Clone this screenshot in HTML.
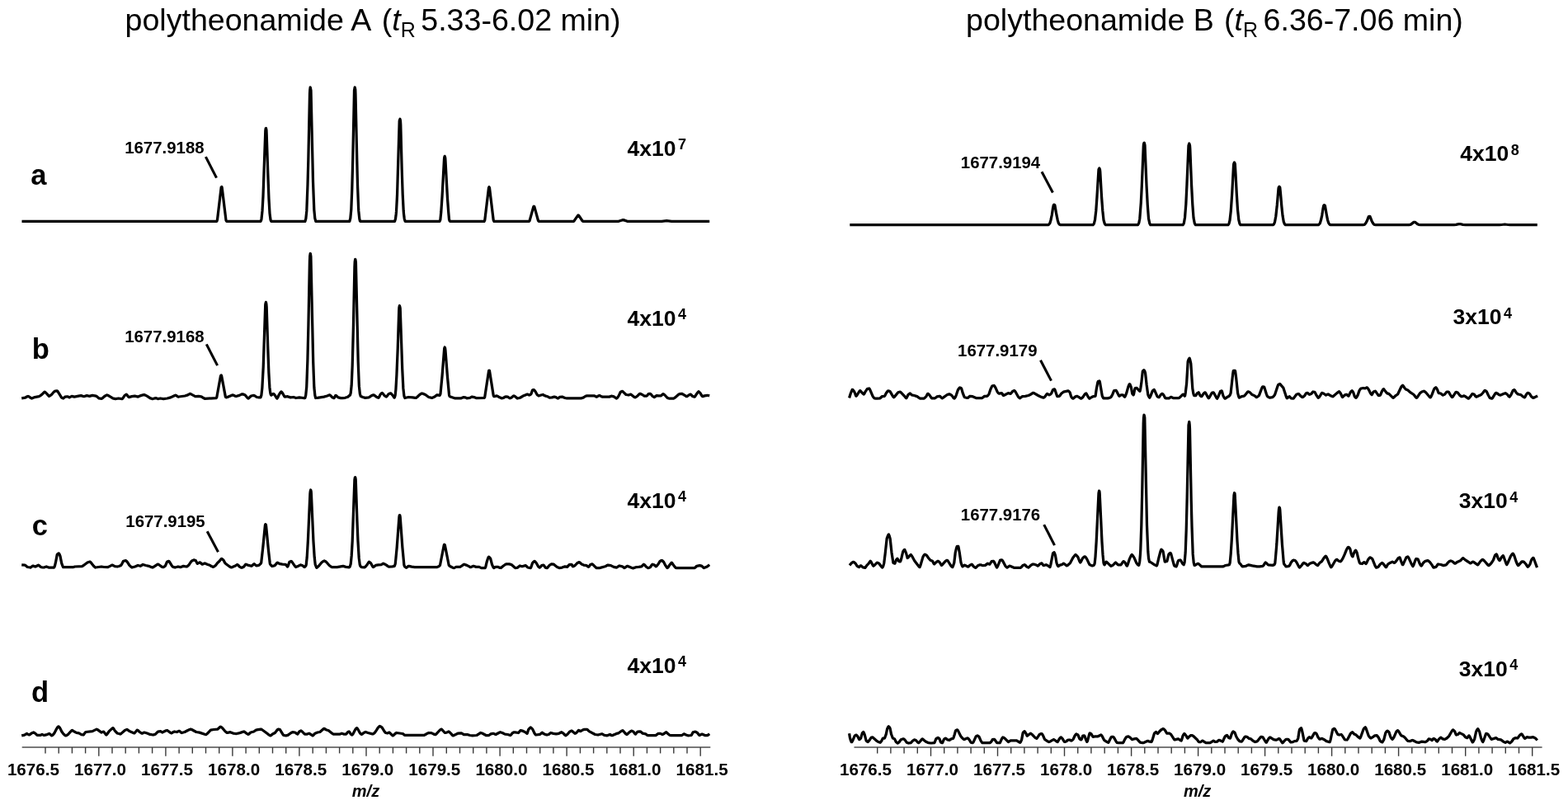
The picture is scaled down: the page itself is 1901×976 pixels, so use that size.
<!DOCTYPE html>
<html lang="en">
<head>
<meta charset="utf-8">
<title>Polytheonamide mass spectra</title>
<style>
html,body{margin:0;padding:0;background:#fff;}
body{width:1901px;height:976px;overflow:hidden;}
svg{display:block;}
text{font-family:"Liberation Sans",sans-serif;fill:#000;}
.ax{font-size:20.6px;font-weight:bold;}
.mz{font-size:20px;font-weight:bold;font-style:italic;}
.pl{font-size:20.4px;font-weight:bold;}
.sc{font-size:26.5px;font-weight:bold;}
.sup{font-size:18px;font-weight:bold;}
.lt{font-size:34.5px;font-weight:bold;}
.tt{font-size:37.6px;}
.it{font-style:italic;}
.sub{font-size:25px;}
</style>
</head>
<body>
<svg width="1901" height="976" viewBox="0 0 1901 976">
<rect x="0" y="0" width="1901" height="976" fill="#fff"/>
<!-- trace bL -->
<polyline points="26.2,482.9 30.4,482.2 33.0,480.8 34.0,480.4 35.0,480.8 37.5,482.6 38.5,483.0 42.2,481.6 47.2,480.7 48.7,479.8 51.0,478.2 53.2,475.9 54.2,475.2 55.2,475.8 57.0,477.6 59.0,480.0 59.5,480.4 59.7,480.3 60.7,479.8 62.7,478.2 65.2,475.3 66.2,474.3 67.2,474.1 69.2,473.8 69.7,474.1 70.2,474.8 74.5,481.8 75.7,482.6 76.7,483.0 79.0,481.1 81.2,480.8 82.2,480.8 83.7,481.7 84.2,481.9 87.0,480.4 90.2,481.1 96.5,479.8 98.2,479.6 101.7,480.7 105.2,479.6 106.0,479.7 108.5,480.4 112.0,479.4 116.5,480.1 117.2,480.6 120.0,482.9 123.0,483.3 123.5,483.2 124.2,482.7 126.7,480.5 128.7,479.3 129.7,478.9 131.4,479.6 136.4,482.7 137.7,483.2 139.9,483.6 143.7,483.0 147.9,483.6 148.4,483.3 148.9,482.8 150.9,479.8 152.2,478.8 153.2,478.2 153.9,478.8 155.4,480.9 156.2,481.6 159.9,480.7 163.4,480.1 167.4,481.1 170.9,479.6 173.4,478.8 174.7,478.6 175.9,479.0 178.2,480.1 181.9,482.6 184.4,483.5 185.4,483.5 188.7,482.6 191.4,483.6 194.4,483.0 198.2,483.6 202.7,483.0 206.9,481.9 211.4,479.7 212.7,479.2 213.4,479.4 215.7,481.0 216.9,481.0 224.2,480.0 227.7,478.9 229.9,477.6 230.7,477.4 236.7,480.6 237.2,480.7 240.9,480.4 243.7,480.9 244.9,481.3 247.2,482.8 248.2,483.3 261.9,482.7 262.7,482.0 262.9,481.0 267.4,456.4 267.7,455.3 268.2,455.0 268.4,455.2 268.7,456.1 273.2,480.1 273.4,481.2 274.2,481.9 275.7,481.5 281.7,478.9 282.7,479.0 285.2,480.2 286.2,480.5 290.2,479.4 292.7,478.1 293.7,477.8 295.4,478.2 297.2,479.0 299.9,482.2 300.9,483.0 301.2,483.1 301.7,482.7 304.4,480.0 307.9,479.4 308.7,479.7 311.2,481.5 313.9,481.8 315.9,481.9 316.9,479.1 317.9,470.1 319.2,445.4 321.7,369.7 321.9,368.1 322.4,366.4 322.9,368.6 323.2,372.2 324.7,419.9 325.9,452.1 326.9,469.7 327.7,476.0 328.2,478.0 328.7,479.1 328.9,479.1 330.9,477.7 331.7,477.5 332.9,478.7 333.9,480.1 335.4,482.6 335.9,483.1 336.7,482.0 338.4,478.3 339.9,476.0 340.9,474.9 341.7,475.5 342.9,477.2 344.7,480.6 345.2,481.1 348.7,480.7 352.2,481.9 355.9,481.5 358.9,482.5 362.9,481.9 367.9,482.5 369.7,482.5 369.9,482.3 370.7,479.4 370.9,477.4 371.7,469.5 371.9,464.4 372.9,436.5 373.9,394.7 375.4,317.8 375.7,310.6 376.2,307.4 376.4,307.7 376.9,310.9 379.7,438.6 380.7,465.7 380.9,470.0 381.7,477.9 381.9,479.6 382.7,482.5 384.7,482.4 392.7,481.1 396.7,480.0 399.7,478.8 400.7,479.5 402.7,481.7 404.7,482.6 404.9,482.7 405.2,482.5 406.9,479.4 407.7,479.8 409.4,481.4 410.2,481.9 413.2,482.6 415.2,482.6 418.4,482.3 420.9,481.5 422.2,480.9 423.4,479.5 424.2,479.4 424.4,479.2 425.2,476.5 426.2,467.2 427.2,443.2 428.4,396.6 429.9,324.1 430.2,317.3 430.7,314.4 430.9,314.7 431.4,317.7 434.2,438.6 435.2,464.4 435.4,468.4 436.2,476.0 436.4,477.6 437.2,480.4 437.9,480.6 439.7,481.5 442.9,482.3 446.9,481.9 447.7,481.6 449.9,480.0 451.9,479.1 453.2,478.8 453.9,479.3 456.2,481.1 457.9,482.0 458.9,482.3 459.7,481.2 461.2,478.1 462.4,477.0 463.4,476.4 464.2,477.1 465.9,479.4 467.4,480.6 468.4,481.1 469.2,480.4 470.9,477.9 472.4,477.1 473.7,476.8 474.7,477.7 476.2,479.5 477.9,482.2 478.2,482.1 478.4,481.6 478.9,480.2 479.2,478.8 479.9,472.1 480.9,454.6 482.2,422.9 483.7,376.6 483.9,372.9 484.4,370.6 484.9,372.2 485.2,373.9 487.7,446.8 488.9,470.9 489.9,479.9 490.4,481.5 490.9,482.5 495.2,481.5 500.2,481.9 503.4,482.4 504.4,482.4 505.7,481.5 508.4,478.8 510.4,477.4 511.4,477.0 513.2,477.4 515.7,478.5 519.7,481.5 523.5,482.3 524.7,482.1 527.0,481.1 529.2,479.2 530.0,478.8 532.7,479.3 533.2,479.3 533.7,478.3 534.0,477.3 534.7,470.2 536.0,456.5 538.5,424.7 538.7,422.3 539.2,421.0 539.7,422.4 540.0,424.9 542.5,457.2 544.5,478.5 544.7,479.6 545.2,480.7 551.2,482.8 559.2,482.8 561.7,481.6 564.2,481.9 566.0,482.8 567.5,482.7 569.7,482.4 571.5,481.4 572.2,481.1 574.7,481.6 577.2,482.6 587.0,482.5 587.7,481.5 592.5,450.2 592.7,449.4 593.0,449.1 593.5,449.4 598.2,479.3 598.5,480.1 599.0,480.7 599.2,480.7 602.2,479.9 603.0,480.2 605.2,481.6 608.0,482.8 610.5,482.4 612.2,481.2 613.0,480.9 615.5,481.2 617.5,482.5 618.2,482.8 620.2,481.9 622.2,480.3 623.0,479.9 624.2,480.5 627.2,483.0 629.7,482.5 631.0,482.0 633.7,480.3 638.7,478.2 639.5,478.1 641.5,479.0 642.7,478.6 643.7,477.9 644.0,477.5 645.5,473.1 645.7,472.9 647.2,472.6 648.0,473.2 649.0,474.6 651.0,478.3 652.0,479.2 653.0,479.8 653.7,479.8 656.0,479.0 658.2,478.5 660.7,479.9 663.7,480.7 666.2,482.1 669.2,481.9 672.0,481.1 674.0,481.6 676.2,483.0 677.0,482.7 678.7,481.3 681.5,481.1 682.5,481.4 685.0,482.5 687.2,482.8 705.0,482.8 706.2,482.4 708.2,481.5 710.2,480.2 711.0,479.9 720.7,479.9 723.2,481.2 724.0,480.9 726.0,479.7 726.7,479.5 729.5,480.9 730.2,481.1 738.7,481.1 741.2,480.2 742.2,480.3 744.2,480.8 746.5,482.5 747.5,483.0 748.5,482.2 750.0,480.1 752.2,475.5 753.5,474.7 754.5,474.3 755.2,474.8 759.0,478.5 762.0,479.0 764.2,478.2 765.0,478.2 768.7,481.2 770.0,481.9 771.5,481.1 773.0,479.9 775.0,477.8 775.7,477.3 776.0,477.3 778.7,478.5 781.2,480.2 783.7,480.2 784.0,480.2 784.5,479.7 786.2,477.6 788.2,477.3 789.0,477.8 791.0,480.2 792.5,481.3 793.2,481.6 796.0,479.6 798.7,479.9 801.5,479.8 803.5,477.9 804.0,477.6 804.7,478.0 806.0,479.0 808.7,482.0 810.0,482.7 811.0,483.0 817.0,483.0 818.2,482.2 823.0,478.0 824.2,477.6 826.5,477.3 827.7,477.8 831.5,480.2 832.5,480.7 833.2,480.4 835.2,479.0 837.2,478.1 837.7,478.4 839.5,480.4 842.0,481.2 842.2,481.1 842.7,480.6 844.5,477.7 846.0,475.6 847.0,474.7 847.7,475.3 849.0,476.6 850.7,479.6 851.5,480.6 852.0,480.6 854.2,479.9 857.5,479.3 858.7,479.5 860.2,479.9" fill="none" stroke="#000" stroke-width="3.25" stroke-linejoin="round" stroke-linecap="butt" />
<!-- trace cL -->
<polyline points="26.2,684.8 30.2,685.2 30.9,685.6 33.2,687.5 36.5,688.0 37.0,688.0 37.5,687.7 39.7,686.1 40.2,686.1 42.2,686.9 43.0,687.0 46.5,685.2 47.2,685.6 49.5,687.5 51.2,687.8 53.2,688.0 56.2,687.0 59.0,688.0 65.7,688.0 66.5,685.9 67.5,681.7 69.2,672.6 70.0,671.6 71.2,670.8 71.5,671.0 72.0,671.8 73.0,674.4 74.7,682.9 76.0,686.4 76.7,687.7 88.5,687.7 90.7,687.0 99.5,686.6 101.0,685.8 106.0,682.0 107.5,681.5 109.0,681.1 109.5,681.3 110.2,682.0 113.5,686.2 115.0,687.6 115.7,688.0 123.0,687.0 126.0,687.5 130.4,687.7 131.4,687.4 134.9,685.6 136.2,685.1 136.9,685.3 139.2,686.6 142.2,687.0 144.2,686.5 146.7,685.5 147.4,684.4 149.4,680.6 150.7,680.0 152.4,679.6 153.2,680.1 154.7,681.8 156.9,685.4 158.7,687.2 159.9,688.0 163.7,687.0 167.2,685.5 170.2,686.3 173.2,684.5 176.7,685.5 180.4,686.3 183.7,687.7 184.9,688.0 186.2,687.4 190.4,684.6 191.7,684.1 192.4,684.5 196.4,687.3 197.2,687.6 197.7,687.7 198.9,687.2 200.4,686.2 202.2,681.8 202.7,681.1 204.7,680.4 204.9,680.5 205.4,681.1 208.2,685.7 209.2,687.0 210.9,687.7 212.2,688.0 215.9,687.0 218.7,687.7 219.4,687.5 222.4,686.3 225.9,687.0 226.7,686.8 227.7,686.1 229.2,684.7 231.9,680.6 233.7,679.4 234.9,678.9 237.2,679.6 238.9,682.8 239.4,683.3 241.7,682.1 242.4,681.9 245.2,684.1 245.9,683.9 247.9,683.1 248.4,683.0 251.9,684.5 254.4,685.3 256.4,686.6 258.4,687.4 259.7,686.8 261.4,685.4 263.7,682.5 265.9,680.5 267.9,678.0 268.7,677.5 269.9,678.2 271.2,679.4 272.7,682.4 273.7,683.5 278.4,687.0 279.4,687.5 280.4,687.9 281.7,687.6 284.2,686.6 286.7,685.1 287.9,684.6 288.7,685.1 290.4,687.1 291.9,687.9 292.9,688.3 294.2,687.9 295.7,687.0 297.4,684.7 298.2,684.2 301.4,685.4 304.7,686.3 305.4,686.0 307.4,684.1 308.2,683.7 310.7,685.9 312.7,685.7 314.2,685.3 315.4,683.9 315.9,683.6 316.7,682.3 318.7,664.4 321.4,637.0 321.7,636.0 321.9,635.6 322.4,636.3 322.7,638.4 325.4,666.5 327.2,682.5 327.4,683.7 328.2,685.0 329.9,686.5 331.4,686.2 333.4,685.4 335.7,682.6 336.2,682.2 336.4,682.1 339.4,683.7 342.4,684.2 346.2,684.3 348.2,686.8 348.4,687.0 348.7,687.0 349.2,686.1 350.9,681.4 351.7,680.9 352.9,680.4 353.4,680.6 353.9,681.1 357.7,686.6 358.7,687.6 361.2,686.6 363.7,685.2 364.7,684.9 366.9,685.8 368.9,687.4 369.4,687.5 370.7,686.1 371.2,684.7 372.2,675.5 373.4,655.1 375.9,598.7 376.2,595.9 376.7,594.0 377.2,595.9 377.4,598.7 379.9,655.0 381.2,675.3 382.2,684.4 383.7,688.0 383.9,688.3 384.4,688.0 386.4,686.3 389.9,682.0 391.9,680.5 393.2,680.0 394.2,680.4 395.7,681.5 399.2,685.5 401.2,687.0 402.4,687.6 408.7,687.6 415.9,686.3 419.2,687.4 423.4,687.9 424.2,687.1 425.2,683.8 426.2,673.9 427.2,656.3 429.9,581.5 430.4,578.9 430.7,578.7 431.2,581.1 431.4,585.7 432.9,630.1 433.9,654.9 435.2,676.4 436.2,684.4 436.9,686.4 437.9,687.4 438.4,687.6 441.9,687.9 442.4,687.6 443.4,686.7 445.2,684.5 446.7,682.0 447.4,681.2 448.4,681.8 449.7,683.0 451.7,686.7 452.4,687.6 453.2,687.2 455.4,685.4 458.7,684.9 462.2,684.6 464.7,683.2 466.4,683.9 468.4,685.1 470.4,686.6 471.4,687.1 475.4,687.0 478.2,686.3 478.4,686.0 479.2,683.8 479.9,677.3 481.2,663.5 483.9,627.1 484.2,625.2 484.4,624.7 484.7,624.7 484.9,625.2 485.2,626.9 487.9,663.8 489.9,685.2 490.7,687.0 492.4,688.3 493.2,688.0 494.9,686.6 495.7,686.3 499.2,687.1 502.7,687.6 529.5,687.6 530.5,687.4 532.2,686.5 532.7,686.2 533.5,685.2 538.2,661.2 538.5,660.4 538.7,660.2 539.2,660.4 539.5,661.5 544.2,685.2 545.0,686.1 546.5,687.1 549.0,688.2 550.5,688.6 553.0,687.4 557.7,687.3 560.2,685.9 562.0,684.5 562.7,684.2 566.0,685.4 568.0,686.4 569.7,687.4 570.5,687.7 574.0,686.3 577.2,687.4 581.0,687.4 583.5,688.6 588.2,688.6 588.7,687.6 590.2,681.2 591.2,678.0 592.0,675.9 592.5,675.2 593.5,675.9 594.7,677.3 596.5,684.3 597.7,687.2 598.7,688.6 600.5,687.5 601.0,687.4 604.0,687.4 606.2,688.4 607.0,688.5 608.0,688.0 610.0,686.3 612.2,684.7 613.2,684.1 614.0,683.9 617.5,683.9 620.0,684.6 623.7,687.8 625.0,688.6 626.0,688.5 627.7,688.1 630.2,686.0 633.0,686.8 637.2,685.6 638.0,686.2 639.7,688.0 643.2,688.6 643.5,688.4 644.0,687.3 645.5,682.8 646.7,681.3 648.0,680.4 648.7,680.9 650.2,682.5 652.5,686.7 654.0,688.0 654.2,688.1 654.7,687.8 656.7,685.6 659.0,685.1 659.5,685.6 661.2,688.1 663.2,688.6 664.0,688.1 666.0,685.6 667.5,684.4 668.5,683.9 671.2,684.2 672.2,684.9 674.5,686.8 676.7,688.1 678.0,688.6 681.5,688.1 685.0,686.8 687.7,687.4 690.2,684.6 692.2,684.3 693.0,684.3 694.2,686.5 694.5,686.8 694.7,686.8 695.7,686.4 697.2,685.5 699.7,682.8 701.2,682.0 702.2,681.6 703.0,682.0 704.7,683.7 705.7,684.3 707.5,685.1 711.0,685.6 713.5,687.3 714.0,687.1 715.7,684.6 718.0,683.9 718.7,684.3 722.2,687.9 723.2,688.6 726.7,688.6 727.7,688.4 733.7,686.8 736.0,685.5 737.0,685.1 740.5,685.6 744.0,687.4 747.5,688.1 748.2,687.8 750.2,686.3 751.0,686.0 754.5,686.8 757.0,688.6 757.7,688.3 760.0,686.5 760.7,686.3 766.0,688.5 767.5,688.9 771.0,687.7 774.5,687.4 777.7,686.8 778.2,686.5 779.7,684.8 780.5,684.2 781.2,684.7 783.2,686.9 784.7,688.1 785.7,688.6 787.2,688.2 788.5,687.6 790.2,684.9 791.0,684.2 793.5,685.1 795.0,686.7 795.2,686.8 795.5,686.7 796.5,685.8 798.0,684.0 800.0,680.6 801.2,679.8 802.2,679.4 803.2,680.0 804.7,681.5 807.0,685.9 808.5,688.0 809.0,688.5 809.2,688.5 810.0,687.8 811.5,685.4 813.0,683.5 814.2,682.2 814.5,682.3 815.0,682.9 816.2,684.8 818.5,687.7 819.2,688.4 819.7,688.6 842.0,688.6 842.7,688.2 844.7,686.3 848.2,685.6 849.5,685.9 851.0,686.4 852.7,688.1 853.5,688.6 856.2,687.6 858.2,686.3 860.2,684.7" fill="none" stroke="#000" stroke-width="3.25" stroke-linejoin="round" stroke-linecap="butt" />
<!-- trace dL -->
<polyline points="26.2,891.9 29.7,891.1 32.5,889.5 33.2,889.8 35.0,890.8 35.7,890.9 38.5,888.9 40.0,888.2 40.7,888.0 42.7,889.1 45.0,891.4 48.7,891.4 51.0,890.4 53.0,891.4 53.7,891.3 57.0,890.6 59.7,889.5 60.5,889.9 62.0,891.4 62.7,891.9 64.0,891.1 65.7,889.2 68.0,884.7 69.7,881.9 70.7,880.8 71.0,880.8 71.5,881.2 72.7,882.6 74.7,886.8 76.7,889.6 78.5,891.3 79.2,891.7 79.7,891.9 81.0,891.4 82.7,890.3 85.5,887.1 86.7,886.0 87.5,885.5 88.2,885.8 90.0,887.0 92.7,888.4 95.7,888.9 98.7,890.7 101.0,891.0 101.7,890.4 103.2,888.2 104.0,887.5 112.0,886.6 117.2,884.1 118.2,884.6 122.0,887.4 123.0,888.0 123.5,887.9 125.0,887.1 125.5,887.1 126.2,887.7 128.2,890.4 128.9,891.0 129.7,890.3 132.2,886.7 134.7,884.3 136.9,882.6 137.2,882.7 137.7,883.3 139.4,886.2 141.7,888.5 142.2,888.9 143.2,889.3 145.7,890.0 146.2,889.9 146.9,889.4 151.7,885.2 153.9,884.5 154.9,885.0 156.9,886.6 162.7,888.9 162.9,888.9 163.4,888.5 165.7,885.7 166.4,885.1 167.4,885.7 169.4,887.7 171.2,888.7 172.2,889.2 172.7,889.1 174.4,888.0 174.9,888.0 178.4,889.0 181.9,890.4 185.7,891.0 186.9,890.7 188.7,889.9 191.4,887.1 192.9,886.8 194.7,886.7 196.7,888.0 201.4,885.8 202.7,885.5 206.7,888.4 207.7,888.9 208.4,888.7 210.4,887.4 211.4,887.0 214.4,887.5 217.2,886.3 217.9,886.6 219.7,888.2 220.4,888.5 223.9,887.5 227.7,885.5 229.9,884.5 231.2,884.1 232.4,884.5 237.9,887.5 241.9,888.1 248.2,890.3 249.7,890.7 250.9,889.8 255.4,885.2 259.2,884.5 263.7,884.1 264.4,883.6 266.7,881.5 267.4,881.1 268.2,881.5 269.7,882.7 272.4,886.1 274.2,887.7 275.2,888.4 275.9,888.4 279.2,887.7 282.7,889.1 285.7,889.5 286.7,889.5 288.4,889.2 291.4,888.4 294.7,887.2 295.9,887.0 296.7,887.4 298.7,889.1 300.9,890.4 301.7,890.0 303.9,888.0 307.7,887.0 310.4,885.2 312.7,884.7 316.4,884.1 317.7,884.7 321.9,887.7 325.2,890.3 326.9,891.5 327.9,891.9 328.7,891.5 330.4,890.0 333.4,888.5 335.7,885.5 336.7,884.5 337.4,884.1 338.9,884.4 339.4,884.6 343.4,891.1 343.9,891.4 345.2,891.7 346.7,891.9 348.9,891.4 351.9,889.2 353.7,888.1 354.7,887.7 357.7,888.0 359.9,889.6 360.7,890.0 361.2,889.5 362.9,887.0 364.9,886.0 365.7,886.4 368.7,889.4 369.4,890.0 372.4,890.0 374.7,889.2 375.9,889.8 378.7,891.7 379.2,891.9 379.9,891.3 381.9,889.2 384.9,888.0 387.9,887.5 391.9,884.0 392.7,883.5 393.2,883.3 395.2,884.7 398.4,885.7 402.7,889.2 403.9,890.0 412.2,890.0 414.4,889.2 416.7,890.0 419.4,890.0 420.2,889.5 421.7,887.6 423.2,887.0 423.7,887.4 425.2,890.0 426.9,891.0 427.4,890.6 427.9,889.9 430.9,884.3 431.9,883.1 432.4,882.7 432.7,882.7 433.2,883.2 434.4,885.1 436.4,888.8 437.7,890.0 438.4,890.4 439.2,890.0 440.9,888.5 443.2,887.5 446.2,888.5 451.4,889.9 452.2,889.9 453.2,889.3 454.4,888.2 456.4,885.4 458.4,882.1 459.7,880.9 460.4,880.4 461.7,881.0 463.2,882.1 466.4,887.3 467.4,888.5 469.7,888.9 471.9,888.0 472.7,888.6 475.4,891.3 476.2,891.9 476.7,891.7 479.4,889.2 480.7,888.5 487.9,889.5 488.7,889.8 490.4,891.2 491.2,891.4 514.0,891.4 515.0,891.0 518.7,888.9 519.7,888.5 523.0,888.6 525.5,889.9 527.7,890.7 528.5,890.3 529.2,889.7 533.0,885.5 534.5,884.4 535.2,884.1 536.0,884.7 538.7,887.8 539.5,888.4 540.2,888.4 541.7,888.0 544.0,887.0 544.5,887.2 546.5,889.1 548.5,891.4 549.2,891.9 550.7,891.4 555.0,889.2 559.5,888.9 560.2,889.2 561.7,890.3 562.5,890.7 566.5,890.5 569.7,891.5 572.7,891.8 577.7,891.5 578.5,891.2 580.5,889.8 582.7,888.5 584.5,889.0 589.2,891.5 592.5,891.5 593.2,891.2 595.0,889.9 597.5,889.4 598.5,889.3 600.5,890.4 601.0,890.5 605.2,888.2 606.5,887.7 609.0,888.5 612.2,890.1 615.5,890.5 618.7,891.5 619.5,890.9 621.2,888.8 623.2,887.8 624.5,887.8 628.5,888.5 629.0,888.1 630.5,886.1 631.0,885.6 632.5,885.9 634.2,886.4 636.0,887.2 638.5,889.0 639.0,889.3 639.2,889.2 640.7,884.6 642.0,883.0 643.2,882.0 644.2,882.6 645.7,884.1 648.0,889.0 649.0,890.4 649.7,891.0 654.7,890.4 656.5,888.7 657.2,888.2 659.5,889.8 661.7,890.7 663.0,891.0 665.2,890.5 667.0,889.0 667.7,888.5 671.0,889.3 674.2,889.8 677.5,889.3 680.7,887.7 681.7,888.2 683.2,889.3 685.0,891.3 685.7,891.8 686.7,891.2 688.2,890.0 690.5,887.2 692.5,886.2 693.0,886.1 693.5,886.3 697.0,889.3 698.0,888.9 699.5,887.7 701.5,885.4 702.0,885.5 703.2,886.4 703.7,886.6 706.0,885.3 707.7,884.6 708.7,884.4 711.7,884.4 712.0,884.5 714.2,886.6 721.5,890.5 725.0,891.0 729.7,889.8 730.5,890.1 732.7,891.4 736.2,891.8 739.5,890.5 741.7,891.7 742.7,891.6 747.5,889.4 750.0,888.8 753.5,886.3 755.0,885.6 755.7,886.3 757.5,888.5 759.0,890.0 759.7,890.5 760.7,890.0 763.2,887.6 765.0,886.5 766.0,886.1 768.0,887.2 769.7,889.5 770.5,890.1 771.0,889.6 772.5,887.6 773.0,887.2 776.2,886.9 777.0,887.3 779.2,889.2 782.7,889.8 784.5,891.2 785.2,891.5 795.0,891.5 795.7,891.1 797.5,889.7 798.2,889.3 800.7,889.3 802.7,890.4 803.2,890.5 805.5,889.3 807.0,888.1 807.7,887.7 808.5,888.3 809.7,889.6 811.2,890.8 812.2,891.4 812.7,891.5 826.7,891.5 829.2,889.8 831.7,891.0 834.0,891.8 838.0,891.5 838.5,891.1 840.2,887.8 841.2,887.5 843.0,887.2 844.0,887.6 845.5,888.5 847.2,890.8 848.0,891.5 851.2,890.1 854.5,891.5 857.7,891.5 858.7,891.0 860.2,889.8" fill="none" stroke="#000" stroke-width="3.25" stroke-linejoin="round" stroke-linecap="butt" />
<!-- trace bR -->
<polyline points="1029.6,482.5 1031.3,477.0 1032.6,473.8 1033.3,472.4 1033.6,472.3 1034.1,472.7 1035.8,475.0 1037.6,479.7 1037.8,480.1 1038.1,480.2 1038.8,479.4 1041.8,474.6 1042.6,473.7 1042.8,473.6 1043.3,474.0 1046.3,477.4 1047.1,478.1 1047.3,478.0 1047.8,477.4 1049.3,474.6 1051.3,471.7 1051.8,471.4 1053.8,471.0 1054.6,472.1 1058.1,480.4 1059.3,482.1 1060.1,482.8 1061.8,483.1 1063.6,483.2 1067.1,482.8 1069.3,480.7 1072.3,480.3 1073.1,479.2 1074.3,476.8 1075.6,475.0 1076.3,474.1 1076.8,473.9 1078.6,474.3 1079.1,474.6 1082.6,480.6 1083.6,481.7 1084.6,480.9 1088.6,476.0 1089.6,475.5 1091.3,475.1 1092.1,475.6 1096.6,480.3 1098.1,482.2 1098.8,482.8 1099.3,482.1 1100.8,479.0 1102.1,477.7 1103.1,476.9 1103.6,477.1 1105.3,478.8 1108.3,479.5 1111.8,480.6 1114.8,482.8 1115.8,483.2 1120.1,483.2 1120.6,482.9 1121.6,482.0 1123.1,480.3 1124.3,478.0 1124.8,477.3 1125.6,477.7 1126.8,478.9 1128.8,481.9 1129.3,482.5 1129.8,482.8 1133.3,482.8 1134.1,482.4 1136.1,480.8 1139.1,480.3 1139.8,480.6 1141.6,482.4 1142.1,482.8 1142.3,482.8 1143.8,481.9 1148.1,478.8 1149.8,478.1 1151.1,477.8 1152.3,478.4 1154.1,479.6 1156.3,482.7 1156.8,483.1 1157.1,483.1 1158.1,481.7 1159.3,479.1 1161.3,473.0 1162.6,471.0 1163.6,470.0 1164.8,470.4 1165.6,470.9 1167.3,476.7 1168.8,480.6 1169.6,481.7 1171.8,482.3 1173.3,482.4 1175.3,480.7 1176.1,480.3 1179.1,480.7 1183.3,482.5 1190.8,482.5 1193.6,480.4 1196.6,480.3 1197.1,480.1 1197.8,479.4 1199.1,477.6 1200.8,472.3 1202.6,468.4 1203.1,467.9 1205.1,467.5 1205.6,467.8 1206.3,468.9 1207.3,470.8 1209.1,474.9 1210.3,476.4 1211.3,477.2 1211.8,477.2 1214.3,476.6 1214.8,477.0 1216.1,479.0 1216.6,479.5 1217.8,479.0 1222.3,476.6 1225.3,477.3 1225.8,476.9 1227.6,474.5 1228.8,473.9 1229.8,473.6 1230.3,474.0 1231.1,475.0 1234.3,480.8 1235.8,482.4 1236.6,482.8 1239.3,480.7 1243.1,480.3 1246.8,479.5 1249.6,478.2 1251.6,476.8 1252.6,476.3 1253.6,476.6 1258.6,479.5 1261.6,481.0 1264.1,481.9 1265.3,482.1 1266.1,481.6 1267.3,480.3 1268.8,478.1 1269.6,477.3 1272.1,478.8 1272.8,478.5 1273.8,477.8 1274.6,477.1 1276.6,472.5 1278.3,471.9 1278.6,472.0 1279.1,473.0 1281.3,479.6 1281.8,480.6 1284.3,480.3 1285.1,479.5 1286.6,477.3 1289.3,475.2 1295.1,473.9 1295.8,474.3 1297.1,475.8 1298.6,480.8 1299.8,482.4 1300.8,483.1 1301.1,483.2 1301.6,482.9 1303.3,481.3 1304.8,480.5 1305.6,480.3 1307.8,481.4 1310.1,483.0 1310.6,483.2 1310.8,483.1 1312.8,481.6 1315.1,478.0 1316.1,477.2 1316.8,476.9 1319.6,481.7 1320.8,483.2 1321.6,482.8 1323.1,481.7 1324.6,481.0 1325.3,480.7 1327.8,480.3 1328.1,480.0 1329.3,471.6 1330.8,463.7 1331.3,462.5 1332.8,461.9 1333.1,462.1 1333.6,464.2 1336.3,480.1 1337.1,481.7 1337.8,482.8 1343.1,482.8 1344.8,482.4 1346.6,481.7 1347.3,480.9 1348.8,478.2 1350.6,473.7 1351.1,473.5 1352.8,473.3 1353.1,473.4 1353.6,474.1 1356.1,479.1 1356.8,480.2 1357.1,480.3 1357.3,480.1 1359.1,478.8 1361.3,478.8 1361.8,479.2 1363.1,480.9 1363.6,481.3 1364.3,480.2 1365.8,476.4 1367.8,469.1 1368.8,466.5 1369.3,465.7 1369.6,465.6 1370.1,466.3 1371.3,469.4 1372.8,477.4 1374.1,478.8 1374.3,478.5 1374.6,477.7 1375.8,471.7 1376.1,470.9 1376.3,470.7 1378.1,470.4 1378.3,470.5 1381.3,473.9 1381.8,474.3 1382.1,474.1 1382.8,470.8 1383.8,464.3 1385.3,450.4 1385.8,449.5 1386.8,448.6 1387.3,449.1 1387.8,450.1 1388.3,451.4 1388.6,452.7 1390.1,466.3 1391.8,478.6 1392.8,480.9 1393.6,482.0 1393.8,482.2 1394.6,480.8 1397.3,473.9 1398.3,473.0 1399.3,472.5 1399.8,473.3 1402.8,480.2 1403.3,480.9 1404.6,481.5 1405.1,481.7 1405.3,481.6 1407.1,478.8 1408.6,477.6 1409.3,477.3 1410.1,478.1 1411.1,479.5 1412.6,482.4 1413.1,482.8 1417.3,482.8 1419.6,481.3 1422.3,482.5 1429.1,482.5 1429.8,482.2 1430.6,481.6 1434.1,478.2 1434.3,478.1 1434.6,478.3 1436.3,480.2 1436.6,480.0 1437.3,475.9 1438.6,465.0 1440.1,439.3 1440.3,437.8 1440.8,436.4 1441.6,434.8 1442.1,434.2 1442.8,436.3 1443.8,440.9 1445.8,471.0 1446.8,476.9 1447.6,479.5 1449.8,479.5 1451.6,476.7 1453.1,475.8 1453.6,476.4 1454.8,479.4 1455.8,480.3 1456.6,480.7 1456.8,480.6 1457.3,480.0 1459.1,477.3 1460.3,476.2 1461.1,475.8 1461.8,476.7 1464.6,481.9 1465.3,482.8 1466.1,481.9 1469.3,476.4 1471.1,475.8 1471.8,476.7 1474.8,482.3 1475.6,483.2 1476.6,481.6 1479.6,474.5 1480.1,474.2 1481.1,473.9 1481.6,474.8 1482.8,479.4 1484.1,481.9 1485.1,483.2 1486.1,482.7 1488.1,481.3 1490.3,480.2 1491.1,479.0 1492.1,476.6 1494.6,454.1 1495.1,450.6 1495.3,449.5 1495.6,449.3 1497.3,449.3 1497.6,450.0 1498.8,459.3 1500.6,476.6 1501.6,480.4 1502.3,482.1 1503.1,481.9 1504.8,480.8 1508.1,480.2 1509.1,479.4 1512.3,475.4 1513.1,474.8 1515.1,475.5 1517.6,478.2 1520.6,479.6 1523.1,481.6 1523.3,481.7 1523.8,481.5 1525.3,480.5 1526.3,479.6 1526.6,479.1 1529.6,471.1 1530.3,469.5 1530.8,468.9 1532.6,469.2 1532.8,469.5 1535.3,477.5 1536.3,480.1 1536.8,480.8 1538.3,481.7 1539.6,482.2 1542.6,481.7 1544.1,480.5 1545.6,478.6 1548.8,468.7 1549.8,466.4 1550.8,465.8 1551.8,465.5 1552.3,465.9 1553.8,467.9 1555.8,470.1 1559.3,480.8 1560.1,482.5 1560.3,482.8 1560.6,482.7 1563.1,480.7 1563.6,481.0 1565.1,482.8 1567.6,483.2 1568.1,483.0 1568.8,482.3 1571.6,478.6 1572.3,478.0 1574.1,477.5 1574.6,477.6 1576.6,479.9 1578.3,481.2 1579.1,481.6 1579.3,481.5 1580.3,480.9 1581.6,479.8 1583.1,477.4 1583.8,476.6 1585.3,476.3 1587.1,478.1 1587.6,478.3 1588.8,477.9 1589.8,477.4 1591.3,475.4 1591.8,475.0 1593.8,475.4 1594.1,475.6 1596.1,479.4 1597.6,481.7 1598.3,482.4 1599.1,481.7 1600.6,479.7 1601.8,477.4 1602.6,476.4 1603.6,476.6 1605.3,477.5 1607.6,479.1 1609.8,478.1 1610.3,478.0 1614.3,480.3 1615.8,480.8 1616.6,480.3 1620.8,476.6 1622.6,475.2 1623.6,474.7 1624.3,475.5 1625.6,477.5 1627.3,481.2 1627.6,481.5 1627.8,481.5 1630.1,479.1 1632.3,478.3 1632.8,478.4 1634.6,480.1 1635.1,480.2 1637.1,475.8 1638.3,474.3 1639.1,473.7 1639.8,474.4 1640.8,476.0 1642.3,480.7 1643.3,481.9 1643.8,482.3 1644.1,482.3 1644.8,481.4 1646.1,479.1 1648.1,473.4 1649.6,471.3 1650.1,471.0 1652.6,470.5 1655.1,470.9 1657.3,469.8 1657.8,470.2 1658.6,471.2 1659.6,472.8 1661.3,476.4 1662.3,477.9 1663.1,478.6 1663.6,478.0 1665.1,475.1 1666.3,474.5 1667.3,474.2 1668.3,475.3 1671.1,479.4 1671.6,479.6 1673.3,479.1 1673.8,478.3 1675.6,474.0 1676.8,472.1 1677.3,471.6 1677.6,471.6 1679.3,474.1 1681.3,476.6 1684.1,477.6 1688.1,481.6 1688.8,482.2 1689.3,482.3 1690.1,481.7 1691.8,479.9 1694.6,478.0 1698.6,469.5 1699.8,467.8 1700.6,467.2 1701.1,467.7 1702.6,470.0 1704.3,472.1 1706.8,473.1 1710.1,475.9 1714.1,478.5 1716.3,481.4 1717.3,482.4 1717.8,482.1 1718.6,481.2 1721.6,476.6 1723.8,475.0 1726.3,474.2 1727.3,474.7 1728.8,476.0 1732.8,480.8 1733.8,481.7 1734.1,481.9 1734.3,481.8 1735.1,480.6 1736.3,477.9 1738.6,471.8 1739.8,470.4 1740.8,469.8 1741.6,470.7 1742.6,472.4 1743.8,475.8 1744.3,476.7 1746.8,477.0 1749.1,479.1 1750.1,478.8 1751.6,478.1 1753.6,475.4 1754.1,475.0 1756.1,475.0 1756.6,475.6 1758.1,478.4 1759.3,480.2 1760.3,481.4 1760.6,481.5 1760.8,481.5 1761.6,480.7 1764.6,476.0 1765.1,475.5 1765.3,475.4 1767.3,476.0 1769.6,479.1 1771.6,480.6 1772.3,480.8 1775.1,479.9 1776.1,480.4 1780.1,483.2 1780.6,483.0 1781.6,482.0 1782.8,480.6 1784.3,478.3 1785.1,477.5 1787.1,478.0 1789.1,480.7 1789.6,481.1 1789.8,481.2 1795.8,478.5 1798.1,476.0 1799.6,473.9 1800.1,473.4 1801.1,473.8 1802.3,474.8 1804.3,479.0 1806.1,482.2 1807.1,482.7 1808.6,483.2 1809.1,483.0 1809.6,482.4 1812.8,477.2 1813.3,476.6 1813.8,476.3 1815.1,476.9 1817.8,478.8 1818.6,479.1 1819.8,478.8 1824.1,477.0 1825.1,476.7 1826.1,477.2 1827.6,478.4 1829.3,480.7 1829.8,481.1 1830.1,481.1 1830.8,480.3 1832.1,478.3 1834.3,473.5 1835.8,472.6 1836.1,472.7 1836.6,473.3 1838.1,475.9 1839.8,477.5 1840.6,478.0 1843.8,478.6 1846.3,480.8 1848.3,481.9 1848.8,481.4 1850.3,478.4 1851.6,476.8 1852.3,476.3 1853.3,476.7 1854.6,477.6 1856.6,480.8 1857.8,481.8 1858.8,482.4 1860.3,481.9 1864.1,480.0" fill="none" stroke="#000" stroke-width="3.25" stroke-linejoin="round" stroke-linecap="butt" />
<!-- trace cR -->
<polyline points="1030.0,685.4 1032.5,682.5 1034.0,681.6 1034.8,681.3 1035.8,681.9 1037.0,682.9 1039.0,686.1 1040.8,687.3 1041.5,687.6 1043.2,685.9 1043.8,685.8 1045.8,687.6 1047.5,688.2 1048.8,688.4 1049.5,687.6 1050.8,685.6 1053.0,683.3 1054.5,681.1 1055.2,680.3 1055.8,680.8 1058.2,685.3 1059.0,686.2 1059.8,685.7 1062.8,682.6 1063.5,682.2 1064.5,682.6 1065.8,683.2 1068.0,686.3 1069.0,687.5 1069.8,688.1 1070.2,687.4 1070.8,686.2 1071.5,683.9 1071.8,682.5 1073.2,671.1 1074.8,656.4 1075.2,652.8 1076.5,649.4 1077.2,648.1 1077.5,648.0 1078.2,649.7 1079.2,653.3 1081.0,669.9 1082.8,681.6 1083.0,682.5 1084.8,683.2 1085.2,682.4 1086.5,679.0 1087.2,678.0 1088.0,677.3 1089.5,680.3 1091.0,680.9 1091.5,680.9 1092.0,679.7 1093.0,676.2 1094.8,668.6 1095.8,667.1 1096.5,666.4 1096.8,666.4 1097.2,667.3 1098.5,670.3 1099.8,675.2 1100.2,676.5 1100.8,676.3 1103.5,673.0 1104.2,672.5 1104.5,672.7 1106.2,675.2 1108.8,680.0 1112.8,685.3 1114.2,687.1 1115.0,687.6 1115.5,686.7 1116.0,685.3 1119.0,675.1 1120.2,673.2 1121.2,672.2 1122.2,672.6 1123.5,673.4 1125.8,676.7 1128.0,679.3 1130.5,680.3 1132.2,683.4 1132.8,683.9 1133.2,683.5 1135.0,681.6 1136.5,680.6 1137.2,680.3 1138.0,680.7 1139.2,681.7 1141.0,684.8 1141.5,685.4 1142.2,684.8 1146.2,680.4 1147.8,679.4 1148.5,679.3 1149.5,680.5 1152.5,685.4 1154.0,687.1 1154.8,687.6 1155.5,686.3 1156.8,682.2 1158.2,670.2 1159.5,664.5 1160.2,662.6 1161.5,662.3 1161.8,662.4 1162.0,663.1 1163.2,669.5 1165.0,682.0 1166.0,685.1 1167.0,686.9 1169.5,685.1 1173.2,687.0 1174.0,687.2 1176.0,685.2 1178.2,684.2 1179.0,684.9 1180.5,686.9 1182.0,688.1 1182.8,688.4 1183.5,687.9 1185.5,685.8 1188.0,684.8 1189.0,684.8 1191.5,685.7 1194.5,685.4 1196.8,683.6 1197.5,683.2 1199.8,684.2 1200.2,683.7 1202.2,680.7 1204.2,680.3 1204.5,680.4 1205.0,680.9 1206.2,683.1 1207.8,686.8 1208.5,688.1 1209.0,687.5 1209.8,686.0 1212.5,679.3 1213.0,679.1 1214.5,678.8 1215.0,679.1 1215.8,680.2 1218.8,686.1 1220.0,687.4 1221.0,688.1 1224.0,686.2 1225.2,686.5 1229.8,688.4 1237.2,688.4 1238.0,687.8 1240.0,685.6 1242.2,684.7 1243.0,685.1 1244.5,686.8 1245.8,687.6 1246.8,688.1 1247.5,687.7 1249.8,685.4 1252.2,684.0 1253.2,684.0 1255.5,684.7 1258.2,686.2 1259.0,685.7 1260.8,683.7 1263.0,682.8 1263.5,683.3 1264.8,685.3 1265.2,685.7 1268.2,684.7 1270.0,685.5 1273.0,687.6 1273.8,684.9 1276.5,671.0 1277.0,670.3 1278.0,669.7 1278.5,670.6 1279.5,673.6 1281.0,682.5 1282.2,685.7 1282.8,686.4 1283.0,686.6 1285.0,685.1 1287.2,684.7 1289.5,683.2 1290.5,683.8 1293.0,685.8 1293.5,685.8 1294.5,685.3 1297.5,682.6 1300.8,676.3 1302.8,673.6 1304.0,672.5 1305.0,673.3 1306.8,675.4 1309.0,680.8 1309.8,682.0 1310.5,681.1 1312.5,676.9 1314.2,675.3 1315.0,674.9 1315.5,674.8 1316.5,675.9 1318.0,678.3 1320.2,683.2 1321.0,684.5 1321.2,684.8 1323.2,685.6 1324.2,685.9 1325.0,685.8 1326.2,685.3 1327.0,683.8 1327.2,682.8 1328.0,675.3 1329.2,656.3 1331.8,601.7 1332.0,597.7 1332.5,595.2 1332.8,595.4 1333.0,596.2 1333.2,598.1 1336.0,657.1 1337.0,672.4 1338.0,682.6 1338.5,684.1 1339.0,684.8 1339.2,684.7 1340.8,681.7 1341.2,681.1 1342.2,681.8 1346.0,685.6 1347.0,686.3 1348.0,685.9 1349.8,684.8 1351.8,682.5 1352.5,682.0 1355.5,684.8 1358.8,684.8 1359.0,684.7 1359.5,684.2 1361.5,681.1 1362.0,680.6 1362.2,680.6 1363.0,681.1 1364.2,682.5 1366.0,685.9 1366.2,686.2 1366.5,686.2 1367.2,684.5 1369.2,678.2 1371.2,673.8 1371.8,673.0 1372.2,672.5 1373.2,673.5 1375.0,676.2 1377.8,682.5 1379.5,684.7 1380.5,685.4 1380.8,685.1 1381.5,682.0 1381.8,679.9 1382.5,671.6 1382.8,666.2 1383.8,637.2 1384.8,593.8 1386.2,514.1 1386.5,506.5 1387.0,503.1 1387.2,503.3 1387.8,506.3 1390.5,636.7 1391.8,668.7 1392.5,676.6 1392.8,678.2 1393.5,681.1 1394.8,681.5 1399.5,684.6 1401.5,685.6 1402.2,685.9 1402.5,685.7 1403.0,684.4 1405.0,675.9 1406.5,670.2 1407.2,667.7 1408.0,666.1 1409.2,667.3 1410.0,668.4 1410.2,669.2 1411.8,678.8 1412.2,681.0 1413.0,681.0 1414.8,680.5 1415.2,679.2 1416.5,673.6 1417.0,671.9 1418.0,671.0 1419.0,670.4 1419.5,671.1 1420.0,672.6 1423.0,683.8 1423.5,685.4 1424.0,686.3 1426.0,686.9 1426.8,685.3 1428.2,680.5 1428.8,679.5 1429.0,679.3 1431.0,679.0 1431.8,679.9 1433.8,683.6 1435.2,684.8 1436.0,682.2 1436.2,680.9 1437.2,669.7 1438.2,642.8 1439.2,602.2 1441.0,515.4 1441.8,511.4 1442.2,514.6 1442.5,519.8 1444.2,606.5 1445.0,637.7 1446.0,666.0 1446.2,671.9 1447.2,682.1 1448.0,685.0 1448.2,685.4 1449.2,685.1 1451.5,683.7 1452.5,683.3 1453.5,683.9 1455.8,686.2 1456.8,686.9 1482.5,686.9 1483.5,686.6 1485.8,685.5 1490.0,684.8 1490.5,684.4 1491.2,682.2 1492.2,671.4 1493.2,656.1 1494.2,636.9 1495.8,604.1 1496.0,600.2 1496.5,597.7 1496.8,597.8 1497.0,598.5 1497.2,600.4 1500.0,656.0 1501.0,670.9 1501.8,679.0 1502.0,680.9 1502.5,682.4 1503.0,683.1 1503.8,683.7 1505.5,686.2 1506.2,686.9 1510.5,686.3 1513.8,684.8 1518.2,685.9 1524.0,686.9 1527.0,686.8 1531.0,686.3 1531.8,685.6 1533.5,682.8 1534.2,682.0 1535.0,682.4 1536.8,684.2 1537.5,684.8 1542.8,685.4 1545.0,684.6 1545.8,682.8 1546.5,675.6 1547.8,660.0 1550.2,620.6 1550.5,617.4 1550.8,615.7 1551.0,615.1 1551.2,615.3 1551.5,615.9 1551.8,617.9 1554.5,660.7 1556.2,681.1 1556.5,683.0 1557.0,684.3 1557.8,685.0 1559.0,686.9 1561.5,686.6 1563.0,686.2 1563.8,685.0 1565.5,681.6 1567.2,679.7 1568.2,679.1 1569.8,679.5 1570.8,680.1 1571.8,681.6 1574.8,687.2 1575.5,688.1 1576.5,687.3 1578.0,685.5 1579.8,683.0 1580.5,682.4 1582.8,683.2 1584.8,685.2 1585.2,685.6 1585.8,685.4 1587.5,683.7 1588.0,683.3 1590.2,682.4 1592.5,681.9 1593.2,682.3 1595.0,683.9 1596.5,685.1 1597.5,685.6 1598.2,684.9 1600.0,682.4 1602.5,680.7 1605.0,676.6 1606.5,674.8 1607.2,674.2 1608.0,675.0 1609.2,677.4 1611.5,683.4 1613.0,686.7 1613.8,687.8 1614.2,687.4 1614.8,686.7 1618.5,680.2 1620.2,678.5 1620.8,678.3 1621.0,678.4 1622.8,679.9 1624.8,680.7 1625.2,680.8 1626.0,680.2 1627.8,677.4 1629.2,674.4 1630.2,672.2 1632.5,666.3 1634.0,663.9 1634.8,663.3 1635.8,664.1 1636.8,665.4 1638.2,671.6 1639.2,674.0 1639.8,674.9 1640.0,674.9 1640.2,674.3 1641.5,670.4 1642.5,668.4 1643.5,667.2 1644.0,667.7 1645.2,670.3 1646.8,677.3 1648.2,682.0 1649.0,683.2 1651.5,683.5 1653.8,681.6 1654.2,681.8 1655.8,683.3 1656.2,683.5 1657.0,682.2 1658.8,678.2 1660.2,676.5 1661.0,675.9 1661.2,675.9 1662.5,676.6 1663.8,677.7 1667.2,686.1 1668.0,687.5 1668.5,688.1 1669.8,687.8 1671.0,687.2 1673.2,684.2 1674.8,682.9 1675.8,682.4 1676.8,683.2 1679.8,687.2 1680.2,687.7 1680.5,687.7 1681.0,687.1 1682.5,684.3 1683.0,683.8 1685.2,682.4 1688.0,681.2 1688.5,681.3 1690.2,682.3 1690.8,682.3 1691.5,681.6 1693.0,679.9 1695.0,676.8 1696.0,676.2 1697.0,675.9 1697.5,676.9 1698.5,680.2 1699.8,683.4 1700.5,684.7 1700.8,684.7 1701.5,683.4 1704.8,676.1 1705.5,675.5 1706.8,675.0 1707.2,675.5 1708.0,676.7 1710.8,682.9 1711.8,684.8 1712.5,686.0 1713.0,686.5 1713.8,685.1 1716.2,678.5 1716.8,677.7 1717.0,677.5 1718.8,677.9 1719.2,678.2 1721.2,683.3 1722.2,685.1 1723.0,686.0 1723.2,686.0 1723.8,685.4 1725.5,682.5 1727.2,680.8 1728.0,680.3 1731.0,679.6 1732.0,680.2 1733.5,681.5 1736.0,684.9 1737.5,687.5 1738.0,688.0 1738.2,688.1 1740.0,687.7 1741.2,687.2 1743.0,684.5 1743.5,684.0 1746.8,684.5 1750.0,685.6 1753.2,684.8 1754.0,684.1 1755.8,681.7 1757.5,680.4 1758.5,680.0 1759.5,680.1 1761.5,681.2 1763.2,682.8 1764.0,683.2 1765.0,682.7 1767.2,681.2 1770.5,679.8 1772.8,677.4 1773.8,676.7 1774.5,677.1 1776.2,678.6 1782.2,682.7 1782.8,682.9 1783.0,682.8 1785.2,681.4 1786.0,681.2 1787.2,681.8 1791.5,684.8 1792.0,684.5 1792.5,683.9 1794.8,680.6 1796.5,678.9 1797.5,678.3 1798.2,678.8 1799.8,680.3 1803.8,684.9 1804.8,685.6 1805.8,685.0 1806.8,684.0 1807.8,683.0 1809.0,681.3 1810.5,678.9 1812.5,673.4 1813.5,672.3 1814.2,671.9 1814.8,672.8 1816.0,676.5 1817.2,678.7 1818.0,679.5 1818.5,679.2 1820.0,676.2 1821.0,674.9 1822.0,673.9 1822.2,673.7 1822.5,673.9 1823.2,675.5 1826.0,683.2 1826.5,684.2 1826.8,684.5 1827.2,683.9 1828.0,682.5 1831.5,674.4 1833.0,672.1 1834.0,671.1 1834.2,671.1 1834.8,671.8 1836.0,674.2 1838.0,680.5 1839.5,684.0 1840.5,685.5 1840.8,685.5 1841.5,684.9 1844.8,681.1 1845.2,680.8 1845.8,680.9 1847.2,681.2 1848.0,681.7 1850.0,684.0 1851.8,686.8 1852.2,687.3 1852.5,687.2 1853.5,686.1 1855.0,683.8 1856.5,679.3 1857.0,678.2 1858.0,677.0 1858.8,676.4 1859.0,676.4 1859.5,677.3 1863.5,688.1" fill="none" stroke="#000" stroke-width="3.25" stroke-linejoin="round" stroke-linecap="butt" />
<!-- trace dR -->
<polyline points="1029.6,889.2 1030.3,893.6 1031.1,896.9 1032.1,899.3 1032.3,899.6 1032.6,899.7 1033.3,898.7 1034.3,896.7 1036.1,892.4 1036.8,891.7 1037.8,891.1 1038.1,891.1 1038.6,891.5 1039.8,892.8 1041.6,896.4 1041.8,896.6 1042.6,896.1 1043.6,895.1 1045.3,889.1 1046.3,887.8 1046.8,887.5 1047.3,888.3 1048.3,890.9 1050.1,897.9 1050.6,898.5 1051.6,899.3 1052.1,899.5 1052.8,898.9 1054.3,897.1 1056.1,894.4 1057.8,893.9 1058.6,894.3 1060.1,895.8 1063.1,898.4 1064.8,899.5 1067.1,900.3 1067.8,899.6 1068.8,898.2 1070.3,895.1 1072.3,895.1 1072.8,894.3 1074.3,890.1 1075.6,883.7 1076.6,881.6 1077.3,880.7 1078.1,881.4 1079.1,883.1 1080.6,890.3 1082.1,894.3 1082.6,895.1 1084.6,895.9 1086.3,899.5 1087.6,900.6 1088.3,901.0 1089.1,900.7 1090.3,899.5 1092.3,896.7 1093.6,896.2 1095.1,895.8 1096.1,896.3 1097.3,897.4 1099.3,900.2 1100.3,900.6 1101.6,901.0 1104.3,900.6 1106.6,898.1 1108.6,896.9 1109.6,897.2 1111.1,898.2 1112.8,900.2 1113.6,900.7 1114.8,899.7 1117.6,896.4 1118.3,895.8 1119.1,896.3 1120.6,897.8 1121.6,898.6 1123.1,899.5 1125.3,900.5 1126.1,900.7 1128.8,901.0 1132.6,900.7 1133.1,900.1 1134.8,895.9 1136.1,894.9 1137.1,894.4 1138.1,895.0 1139.1,896.0 1140.3,899.4 1140.8,900.3 1142.3,900.7 1142.6,900.6 1142.8,900.2 1144.3,896.7 1145.3,895.7 1146.3,895.1 1147.1,895.5 1148.8,896.9 1151.1,897.3 1153.3,895.8 1155.3,895.4 1155.6,895.3 1156.3,893.6 1157.3,890.5 1158.6,885.7 1159.3,885.2 1160.6,884.8 1161.6,886.1 1164.6,892.2 1166.3,894.4 1167.8,895.9 1168.6,896.4 1169.1,896.6 1172.6,895.0 1173.3,894.9 1174.1,895.6 1175.3,897.2 1177.1,900.1 1177.6,900.4 1179.3,900.7 1179.8,900.2 1180.3,899.3 1183.1,893.1 1184.1,892.3 1185.1,891.9 1185.8,892.3 1187.1,893.5 1189.1,898.1 1190.3,900.0 1191.1,900.7 1199.8,900.7 1200.6,900.3 1201.8,899.2 1203.3,896.6 1205.1,896.3 1205.6,896.5 1206.1,897.0 1208.6,900.5 1208.8,900.7 1212.1,900.7 1212.6,900.1 1214.1,896.6 1215.1,894.8 1215.8,893.9 1216.6,894.2 1218.1,895.1 1222.3,899.4 1222.6,899.5 1223.1,899.2 1225.3,897.8 1232.1,897.8 1233.3,898.3 1236.1,900.0 1236.8,900.3 1237.6,899.2 1238.6,896.9 1240.1,888.9 1240.3,888.3 1241.1,887.4 1242.1,886.6 1242.6,887.1 1243.3,888.3 1244.1,889.6 1244.8,891.5 1245.3,892.2 1246.3,891.6 1248.8,889.6 1249.6,889.2 1251.6,890.8 1254.3,893.7 1255.8,894.9 1256.8,895.4 1257.3,894.9 1259.8,891.1 1260.6,890.2 1261.8,889.7 1263.1,889.6 1263.8,890.5 1264.8,892.3 1266.3,895.9 1266.8,896.7 1270.3,898.9 1271.8,899.5 1273.3,898.9 1277.3,896.6 1278.3,897.0 1281.6,899.3 1282.1,899.5 1282.3,899.4 1284.3,895.9 1285.6,894.4 1286.3,893.9 1287.1,894.5 1288.3,895.9 1289.8,898.5 1290.6,899.4 1291.6,899.3 1293.1,898.8 1294.3,897.3 1295.8,897.0 1296.8,897.0 1298.3,897.9 1298.8,898.1 1299.8,897.6 1301.1,896.4 1303.1,892.0 1304.1,890.6 1304.6,890.1 1304.8,890.0 1306.8,891.0 1307.3,891.9 1308.8,895.7 1309.8,896.5 1310.8,896.9 1311.3,896.1 1312.6,892.5 1312.8,892.2 1314.6,891.9 1315.1,892.6 1316.3,896.2 1317.3,898.5 1317.8,899.4 1318.1,899.3 1318.6,897.9 1320.6,890.4 1321.1,889.0 1321.3,888.9 1323.1,890.0 1324.6,892.7 1325.1,893.3 1327.6,892.9 1330.6,892.9 1334.8,891.0 1335.6,891.7 1336.8,893.7 1338.6,897.3 1342.1,899.6 1343.6,900.3 1343.8,900.3 1344.3,899.5 1345.6,896.8 1347.3,893.6 1347.8,893.3 1349.6,893.3 1350.6,894.4 1353.3,899.3 1354.1,900.3 1356.3,900.7 1361.3,900.7 1362.1,899.7 1363.6,896.6 1365.3,893.8 1365.8,893.3 1368.1,892.9 1368.8,893.3 1370.3,894.4 1372.3,896.5 1373.1,896.5 1375.1,895.8 1377.6,895.4 1378.8,896.3 1382.3,900.2 1385.6,900.7 1386.6,900.4 1390.3,898.8 1391.6,898.4 1393.8,899.2 1395.8,899.5 1396.1,899.4 1397.1,897.1 1399.3,889.8 1399.8,888.7 1400.8,887.9 1401.6,887.5 1403.1,889.3 1403.3,889.5 1403.6,889.4 1405.6,887.0 1407.6,885.0 1409.1,884.1 1410.3,883.6 1411.1,884.0 1412.6,885.6 1414.1,888.3 1414.8,889.2 1417.6,889.0 1419.6,890.4 1423.8,896.8 1424.3,896.8 1428.3,895.8 1429.1,896.2 1431.3,897.8 1432.1,898.1 1432.6,897.0 1434.1,892.0 1435.1,890.3 1435.8,889.5 1436.6,890.1 1438.1,892.1 1439.3,894.4 1439.8,895.1 1440.3,894.8 1441.8,893.0 1443.3,891.9 1444.1,891.5 1444.8,891.5 1446.6,892.3 1450.8,896.2 1451.6,897.0 1452.8,898.9 1453.6,899.5 1455.8,899.5 1457.8,898.1 1458.6,898.4 1460.1,899.5 1462.1,900.6 1466.6,900.7 1467.6,900.3 1471.1,898.1 1473.1,899.4 1474.1,899.4 1475.6,899.2 1477.3,897.6 1477.8,897.3 1480.1,898.1 1482.1,899.2 1482.6,898.6 1484.1,895.1 1485.3,892.9 1485.8,892.3 1486.8,891.7 1487.6,891.4 1487.8,891.6 1489.6,894.4 1491.1,895.0 1491.6,895.0 1493.1,890.3 1494.3,887.8 1494.8,887.1 1495.1,887.0 1496.3,887.6 1496.8,888.0 1497.1,888.4 1498.8,893.0 1500.8,896.5 1502.8,898.5 1503.3,898.8 1504.1,899.0 1505.3,899.2 1505.8,898.7 1508.8,893.9 1509.6,893.0 1510.3,893.0 1512.1,893.6 1514.1,895.3 1516.6,895.9 1519.1,898.2 1520.6,899.1 1521.6,899.5 1523.1,899.2 1524.3,898.7 1525.3,897.6 1528.3,893.7 1528.8,893.3 1529.1,893.3 1530.6,893.6 1531.1,893.9 1534.1,899.0 1535.1,900.2 1535.3,900.2 1535.8,899.5 1537.1,897.1 1538.3,895.2 1539.1,894.3 1539.6,893.9 1540.6,894.3 1544.1,896.6 1546.6,897.2 1547.6,897.1 1550.6,895.5 1551.1,895.5 1551.8,896.4 1554.1,900.0 1554.8,900.7 1555.6,900.1 1557.1,898.3 1558.3,897.1 1559.1,896.5 1559.6,896.3 1561.8,896.4 1564.8,899.9 1567.3,899.6 1569.3,898.6 1571.8,898.5 1572.8,897.2 1573.8,895.1 1575.1,886.5 1575.6,884.3 1576.6,883.3 1577.6,882.8 1578.1,884.0 1579.3,889.2 1580.8,896.9 1581.1,897.8 1581.3,898.1 1583.1,898.5 1583.6,898.6 1583.8,898.5 1585.8,895.0 1587.3,893.7 1587.8,893.9 1589.3,894.9 1589.8,894.9 1590.6,893.9 1593.3,889.1 1593.8,888.5 1594.1,888.5 1595.6,889.1 1596.1,889.6 1597.8,893.5 1599.1,895.4 1599.8,896.2 1600.3,896.2 1602.1,895.5 1602.8,895.4 1605.3,896.7 1608.1,898.6 1610.3,899.3 1612.1,899.6 1612.6,898.7 1613.1,896.8 1615.6,885.0 1615.8,884.4 1617.3,883.5 1617.8,883.3 1618.3,883.8 1621.8,890.3 1622.6,890.7 1623.8,891.0 1626.1,890.5 1626.6,890.9 1627.3,891.9 1630.3,896.6 1631.1,896.8 1633.1,897.0 1634.1,895.8 1637.3,889.5 1638.6,888.3 1639.6,887.7 1640.3,888.3 1641.8,890.1 1644.1,891.1 1646.6,893.5 1648.1,894.6 1648.8,895.0 1649.3,894.3 1649.8,893.2 1653.1,884.0 1654.1,882.7 1655.3,881.7 1656.1,883.1 1659.3,892.3 1661.1,894.4 1661.8,894.9 1662.3,894.9 1664.3,893.7 1666.8,891.8 1669.1,891.6 1669.8,892.2 1671.3,894.3 1673.3,898.5 1674.6,899.4 1675.6,899.8 1675.8,899.9 1676.3,899.3 1677.8,896.6 1679.8,888.6 1681.1,886.8 1681.6,886.4 1682.1,886.1 1683.1,886.8 1684.1,887.9 1685.8,893.3 1687.1,895.3 1688.1,896.3 1689.1,895.2 1690.3,893.1 1692.6,887.6 1693.8,886.1 1694.6,885.6 1695.6,886.7 1698.6,891.7 1699.3,892.1 1701.8,893.1 1702.3,893.4 1704.3,895.4 1706.1,897.7 1706.8,898.3 1709.8,898.6 1712.1,897.6 1712.6,897.5 1713.8,898.0 1717.3,899.9 1720.6,900.3 1723.8,899.1 1727.8,899.6 1728.6,899.4 1730.6,898.2 1732.1,895.9 1734.3,896.4 1736.1,897.5 1736.6,897.2 1737.8,895.6 1738.1,895.4 1738.3,895.5 1740.3,896.7 1741.8,898.7 1742.3,899.1 1742.8,898.6 1744.3,896.3 1745.8,894.8 1746.6,894.3 1746.8,894.2 1747.3,894.5 1749.1,895.9 1751.3,896.3 1752.1,896.2 1754.1,895.0 1756.6,892.6 1760.3,886.2 1761.1,885.2 1761.6,884.9 1762.3,885.4 1763.6,886.6 1765.1,890.4 1765.6,891.0 1767.6,890.4 1769.1,888.8 1769.6,888.5 1769.8,888.6 1774.3,890.9 1776.6,893.7 1778.8,894.7 1779.3,894.2 1780.6,892.2 1780.8,891.9 1781.1,891.9 1781.8,893.0 1784.6,898.8 1785.3,899.9 1785.8,899.5 1786.3,898.8 1787.6,896.3 1789.6,887.2 1790.6,885.0 1791.6,883.6 1792.3,884.5 1793.6,886.9 1795.6,895.1 1797.1,898.6 1797.8,899.6 1798.8,897.6 1801.1,890.8 1801.8,889.3 1803.1,889.7 1804.1,890.3 1807.1,895.0 1808.1,896.2 1808.3,896.3 1808.8,896.2 1812.8,894.9 1813.8,894.7 1816.1,896.3 1819.6,896.8 1822.6,899.1 1824.1,899.9 1825.1,900.3 1827.1,899.2 1827.6,899.1 1830.1,900.7 1830.6,900.8 1830.8,900.7 1832.8,899.0 1834.8,896.0 1836.1,895.2 1837.1,894.7 1839.8,895.0 1840.6,894.2 1842.1,891.9 1843.6,890.5 1844.6,889.8 1845.1,890.1 1845.6,890.8 1848.1,894.8 1848.6,895.3 1849.1,895.2 1851.1,893.7 1853.6,894.2 1856.1,894.2 1858.6,893.7 1859.8,894.1 1861.6,895.1 1863.8,897.5" fill="none" stroke="#000" stroke-width="3.25" stroke-linejoin="round" stroke-linecap="butt" />
<!-- trace aL -->
<polyline points="26.5,268.4 262.5,268.4 262.8,268.3 263.2,267.4 263.5,266.4 268.2,227.0 268.8,226.5 269.0,226.8 269.2,227.8 274.0,267.1 274.8,268.4 316.0,268.4 316.8,266.5 317.0,265.5 318.0,255.9 319.0,237.8 321.8,158.2 322.2,155.7 322.5,155.5 323.0,157.9 323.2,162.6 324.8,210.1 326.0,241.4 327.0,258.6 327.8,265.1 328.0,266.4 328.5,267.7 328.8,268.3 329.0,268.4 369.8,268.4 370.0,268.0 370.8,265.3 371.8,255.9 372.0,250.3 373.0,223.8 373.8,194.7 375.5,113.6 375.8,108.7 376.2,105.8 377.0,109.6 379.5,219.9 380.8,254.1 381.8,264.7 382.8,268.4 423.8,268.4 424.0,267.7 424.8,264.7 425.8,254.1 426.8,228.9 427.8,190.8 429.5,109.6 430.2,105.8 430.8,108.7 431.0,113.6 432.8,194.7 433.5,223.8 434.5,250.3 434.8,255.9 435.8,265.3 436.5,268.0 436.8,268.4 478.5,268.4 479.2,266.3 479.5,265.2 480.2,259.5 480.5,256.4 481.5,237.2 484.2,146.8 484.8,144.6 485.0,144.3 485.5,146.6 485.8,151.7 487.2,206.1 488.2,235.7 489.2,255.5 489.5,259.1 490.2,264.8 490.5,266.2 491.2,268.3 491.5,268.4 532.8,268.4 533.2,267.9 533.8,266.6 534.0,264.9 534.8,257.0 536.0,239.0 538.5,192.9 538.8,190.5 539.2,189.4 539.8,191.5 540.0,194.6 542.5,240.7 543.8,258.2 544.5,265.9 545.2,268.1 545.8,268.4 587.0,268.4 587.8,266.8 592.5,227.8 593.0,226.8 593.5,227.8 598.2,266.8 599.0,268.4 641.2,268.4 642.0,267.9 646.8,250.7 647.2,250.1 647.8,250.4 652.5,267.5 652.8,268.0 653.5,268.4 695.0,268.4 695.8,268.2 696.0,267.9 700.5,261.3 701.0,261.0 701.5,261.1 701.8,261.4 706.2,268.0 706.5,268.2 707.2,268.4 749.2,268.4 750.0,268.3 754.8,266.7 755.2,266.6 755.8,266.6 760.5,268.3 761.2,268.4 802.2,268.4 808.2,267.7 814.2,268.4 860.2,268.4" fill="none" stroke="#000" stroke-width="3.25" stroke-linejoin="round" stroke-linecap="butt" />
<!-- trace aR -->
<polyline points="1030.3,272.7 1270.5,272.7 1271.5,272.2 1272.8,270.7 1274.0,266.7 1275.3,260.5 1276.5,252.5 1277.3,248.7 1278.0,248.1 1278.8,248.6 1279.0,249.4 1280.8,259.9 1282.3,267.2 1283.5,270.9 1284.8,272.3 1285.8,272.7 1325.0,272.7 1325.3,272.6 1326.3,271.3 1327.5,266.7 1328.8,255.4 1330.0,237.9 1331.8,208.3 1332.0,205.6 1332.8,204.0 1333.5,205.6 1333.8,208.3 1335.5,237.9 1336.8,255.4 1338.0,266.7 1339.3,271.3 1340.3,272.6 1340.5,272.7 1379.5,272.7 1380.5,271.0 1380.8,270.2 1381.8,265.2 1382.0,262.6 1383.3,245.5 1384.3,225.3 1386.3,176.9 1386.5,174.8 1387.0,173.3 1387.3,173.1 1388.0,175.8 1390.0,224.3 1391.3,248.9 1392.5,264.9 1393.8,270.9 1394.8,272.7 1434.0,272.7 1434.3,272.6 1435.3,270.7 1436.5,264.0 1437.8,247.8 1439.0,222.7 1440.8,180.1 1441.0,176.2 1441.8,174.0 1442.5,176.2 1442.8,180.1 1444.5,222.7 1445.8,247.8 1447.0,264.0 1448.3,270.7 1449.3,272.6 1449.5,272.7 1488.8,272.7 1489.0,272.6 1489.8,271.5 1490.0,271.0 1491.0,267.2 1492.3,255.6 1493.8,233.3 1495.5,200.8 1495.8,198.5 1496.5,197.0 1497.3,198.7 1498.0,210.4 1499.3,235.2 1500.5,254.1 1501.8,266.5 1503.0,271.3 1504.0,272.7 1543.3,272.7 1544.3,272.0 1544.5,271.7 1545.5,269.3 1546.8,262.2 1548.3,248.5 1550.0,228.6 1550.3,227.2 1551.0,226.3 1551.8,227.3 1552.5,234.5 1553.8,249.7 1555.0,261.3 1556.3,268.9 1557.5,271.8 1558.5,272.7 1598.0,272.7 1599.0,272.2 1600.3,270.7 1601.5,266.8 1602.8,260.8 1604.0,252.9 1604.8,249.2 1605.5,248.6 1606.3,249.1 1606.5,249.8 1608.3,260.2 1609.5,266.4 1610.8,270.4 1612.0,272.2 1613.3,272.7 1652.5,272.7 1653.5,272.5 1654.8,271.9 1656.0,270.3 1657.3,267.8 1659.3,262.7 1659.5,262.5 1660.3,262.3 1661.0,262.6 1663.0,267.7 1664.3,270.2 1665.5,271.9 1666.8,272.5 1667.8,272.7 1708.3,272.6 1709.5,272.4 1710.8,271.9 1714.0,269.4 1714.8,269.3 1715.8,269.4 1717.8,271.1 1718.8,271.8 1720.0,272.4 1722.5,272.7 1762.8,272.7 1765.3,272.4 1768.5,271.6 1769.5,271.5 1770.3,271.5 1773.5,272.4 1777.0,272.7 1817.8,272.7 1820.3,272.5 1824.3,272.0 1828.5,272.5 1831.0,272.7 1863.8,272.7" fill="none" stroke="#000" stroke-width="3.25" stroke-linejoin="round" stroke-linecap="butt" />
<line x1="26.7" y1="906.0" x2="861.3" y2="906.0" stroke="#4d4d4d" stroke-width="1.5"/>
<line x1="55.0" y1="906.0" x2="55.0" y2="913.4" stroke="#3a3a3a" stroke-width="1.4"/>
<line x1="71.2" y1="906.0" x2="71.2" y2="913.4" stroke="#3a3a3a" stroke-width="1.4"/>
<line x1="87.4" y1="906.0" x2="87.4" y2="913.4" stroke="#3a3a3a" stroke-width="1.4"/>
<line x1="103.6" y1="906.0" x2="103.6" y2="913.4" stroke="#3a3a3a" stroke-width="1.4"/>
<line x1="136.0" y1="906.0" x2="136.0" y2="913.4" stroke="#3a3a3a" stroke-width="1.4"/>
<line x1="152.2" y1="906.0" x2="152.2" y2="913.4" stroke="#3a3a3a" stroke-width="1.4"/>
<line x1="168.4" y1="906.0" x2="168.4" y2="913.4" stroke="#3a3a3a" stroke-width="1.4"/>
<line x1="184.6" y1="906.0" x2="184.6" y2="913.4" stroke="#3a3a3a" stroke-width="1.4"/>
<line x1="217.1" y1="906.0" x2="217.1" y2="913.4" stroke="#3a3a3a" stroke-width="1.4"/>
<line x1="233.3" y1="906.0" x2="233.3" y2="913.4" stroke="#3a3a3a" stroke-width="1.4"/>
<line x1="249.5" y1="906.0" x2="249.5" y2="913.4" stroke="#3a3a3a" stroke-width="1.4"/>
<line x1="265.7" y1="906.0" x2="265.7" y2="913.4" stroke="#3a3a3a" stroke-width="1.4"/>
<line x1="298.1" y1="906.0" x2="298.1" y2="913.4" stroke="#3a3a3a" stroke-width="1.4"/>
<line x1="314.3" y1="906.0" x2="314.3" y2="913.4" stroke="#3a3a3a" stroke-width="1.4"/>
<line x1="330.5" y1="906.0" x2="330.5" y2="913.4" stroke="#3a3a3a" stroke-width="1.4"/>
<line x1="346.7" y1="906.0" x2="346.7" y2="913.4" stroke="#3a3a3a" stroke-width="1.4"/>
<line x1="379.2" y1="906.0" x2="379.2" y2="913.4" stroke="#3a3a3a" stroke-width="1.4"/>
<line x1="395.4" y1="906.0" x2="395.4" y2="913.4" stroke="#3a3a3a" stroke-width="1.4"/>
<line x1="411.6" y1="906.0" x2="411.6" y2="913.4" stroke="#3a3a3a" stroke-width="1.4"/>
<line x1="427.8" y1="906.0" x2="427.8" y2="913.4" stroke="#3a3a3a" stroke-width="1.4"/>
<line x1="460.2" y1="906.0" x2="460.2" y2="913.4" stroke="#3a3a3a" stroke-width="1.4"/>
<line x1="476.4" y1="906.0" x2="476.4" y2="913.4" stroke="#3a3a3a" stroke-width="1.4"/>
<line x1="492.6" y1="906.0" x2="492.6" y2="913.4" stroke="#3a3a3a" stroke-width="1.4"/>
<line x1="508.8" y1="906.0" x2="508.8" y2="913.4" stroke="#3a3a3a" stroke-width="1.4"/>
<line x1="541.3" y1="906.0" x2="541.3" y2="913.4" stroke="#3a3a3a" stroke-width="1.4"/>
<line x1="557.5" y1="906.0" x2="557.5" y2="913.4" stroke="#3a3a3a" stroke-width="1.4"/>
<line x1="573.7" y1="906.0" x2="573.7" y2="913.4" stroke="#3a3a3a" stroke-width="1.4"/>
<line x1="589.9" y1="906.0" x2="589.9" y2="913.4" stroke="#3a3a3a" stroke-width="1.4"/>
<line x1="622.3" y1="906.0" x2="622.3" y2="913.4" stroke="#3a3a3a" stroke-width="1.4"/>
<line x1="638.5" y1="906.0" x2="638.5" y2="913.4" stroke="#3a3a3a" stroke-width="1.4"/>
<line x1="654.7" y1="906.0" x2="654.7" y2="913.4" stroke="#3a3a3a" stroke-width="1.4"/>
<line x1="670.9" y1="906.0" x2="670.9" y2="913.4" stroke="#3a3a3a" stroke-width="1.4"/>
<line x1="703.4" y1="906.0" x2="703.4" y2="913.4" stroke="#3a3a3a" stroke-width="1.4"/>
<line x1="719.6" y1="906.0" x2="719.6" y2="913.4" stroke="#3a3a3a" stroke-width="1.4"/>
<line x1="735.8" y1="906.0" x2="735.8" y2="913.4" stroke="#3a3a3a" stroke-width="1.4"/>
<line x1="752.0" y1="906.0" x2="752.0" y2="913.4" stroke="#3a3a3a" stroke-width="1.4"/>
<line x1="784.4" y1="906.0" x2="784.4" y2="913.4" stroke="#3a3a3a" stroke-width="1.4"/>
<line x1="800.6" y1="906.0" x2="800.6" y2="913.4" stroke="#3a3a3a" stroke-width="1.4"/>
<line x1="816.8" y1="906.0" x2="816.8" y2="913.4" stroke="#3a3a3a" stroke-width="1.4"/>
<line x1="833.0" y1="906.0" x2="833.0" y2="913.4" stroke="#3a3a3a" stroke-width="1.4"/>
<line x1="119.8" y1="906.0" x2="119.8" y2="916.8" stroke="#3a3a3a" stroke-width="1.4"/>
<line x1="200.9" y1="906.0" x2="200.9" y2="916.8" stroke="#3a3a3a" stroke-width="1.4"/>
<line x1="281.9" y1="906.0" x2="281.9" y2="916.8" stroke="#3a3a3a" stroke-width="1.4"/>
<line x1="362.9" y1="906.0" x2="362.9" y2="916.8" stroke="#3a3a3a" stroke-width="1.4"/>
<line x1="444.0" y1="906.0" x2="444.0" y2="916.8" stroke="#3a3a3a" stroke-width="1.4"/>
<line x1="525.0" y1="906.0" x2="525.0" y2="916.8" stroke="#3a3a3a" stroke-width="1.4"/>
<line x1="606.1" y1="906.0" x2="606.1" y2="916.8" stroke="#3a3a3a" stroke-width="1.4"/>
<line x1="687.1" y1="906.0" x2="687.1" y2="916.8" stroke="#3a3a3a" stroke-width="1.4"/>
<line x1="768.2" y1="906.0" x2="768.2" y2="916.8" stroke="#3a3a3a" stroke-width="1.4"/>
<line x1="849.2" y1="906.0" x2="849.2" y2="916.8" stroke="#3a3a3a" stroke-width="1.4"/>
<text x="40.4" y="940.2" class="ax" text-anchor="middle">1676.5</text>
<text x="121.5" y="940.2" class="ax" text-anchor="middle">1677.0</text>
<text x="202.5" y="940.2" class="ax" text-anchor="middle">1677.5</text>
<text x="283.6" y="940.2" class="ax" text-anchor="middle">1678.0</text>
<text x="364.7" y="940.2" class="ax" text-anchor="middle">1678.5</text>
<text x="445.7" y="940.2" class="ax" text-anchor="middle">1679.0</text>
<text x="526.8" y="940.2" class="ax" text-anchor="middle">1679.5</text>
<text x="607.9" y="940.2" class="ax" text-anchor="middle">1680.0</text>
<text x="689.0" y="940.2" class="ax" text-anchor="middle">1680.5</text>
<text x="770.0" y="940.2" class="ax" text-anchor="middle">1681.0</text>
<text x="851.1" y="940.2" class="ax" text-anchor="middle">1681.5</text>
<text x="443.5" y="966.0" class="mz" text-anchor="middle">m/z</text>
<line x1="1035.5" y1="906.0" x2="1869.6" y2="906.0" stroke="#4d4d4d" stroke-width="1.5"/>
<line x1="1063.7" y1="906.0" x2="1063.7" y2="913.4" stroke="#3a3a3a" stroke-width="1.4"/>
<line x1="1079.9" y1="906.0" x2="1079.9" y2="913.4" stroke="#3a3a3a" stroke-width="1.4"/>
<line x1="1096.1" y1="906.0" x2="1096.1" y2="913.4" stroke="#3a3a3a" stroke-width="1.4"/>
<line x1="1112.3" y1="906.0" x2="1112.3" y2="913.4" stroke="#3a3a3a" stroke-width="1.4"/>
<line x1="1144.7" y1="906.0" x2="1144.7" y2="913.4" stroke="#3a3a3a" stroke-width="1.4"/>
<line x1="1160.9" y1="906.0" x2="1160.9" y2="913.4" stroke="#3a3a3a" stroke-width="1.4"/>
<line x1="1177.1" y1="906.0" x2="1177.1" y2="913.4" stroke="#3a3a3a" stroke-width="1.4"/>
<line x1="1193.3" y1="906.0" x2="1193.3" y2="913.4" stroke="#3a3a3a" stroke-width="1.4"/>
<line x1="1225.7" y1="906.0" x2="1225.7" y2="913.4" stroke="#3a3a3a" stroke-width="1.4"/>
<line x1="1241.9" y1="906.0" x2="1241.9" y2="913.4" stroke="#3a3a3a" stroke-width="1.4"/>
<line x1="1258.1" y1="906.0" x2="1258.1" y2="913.4" stroke="#3a3a3a" stroke-width="1.4"/>
<line x1="1274.3" y1="906.0" x2="1274.3" y2="913.4" stroke="#3a3a3a" stroke-width="1.4"/>
<line x1="1306.7" y1="906.0" x2="1306.7" y2="913.4" stroke="#3a3a3a" stroke-width="1.4"/>
<line x1="1322.9" y1="906.0" x2="1322.9" y2="913.4" stroke="#3a3a3a" stroke-width="1.4"/>
<line x1="1339.2" y1="906.0" x2="1339.2" y2="913.4" stroke="#3a3a3a" stroke-width="1.4"/>
<line x1="1355.4" y1="906.0" x2="1355.4" y2="913.4" stroke="#3a3a3a" stroke-width="1.4"/>
<line x1="1387.8" y1="906.0" x2="1387.8" y2="913.4" stroke="#3a3a3a" stroke-width="1.4"/>
<line x1="1404.0" y1="906.0" x2="1404.0" y2="913.4" stroke="#3a3a3a" stroke-width="1.4"/>
<line x1="1420.2" y1="906.0" x2="1420.2" y2="913.4" stroke="#3a3a3a" stroke-width="1.4"/>
<line x1="1436.4" y1="906.0" x2="1436.4" y2="913.4" stroke="#3a3a3a" stroke-width="1.4"/>
<line x1="1468.8" y1="906.0" x2="1468.8" y2="913.4" stroke="#3a3a3a" stroke-width="1.4"/>
<line x1="1485.0" y1="906.0" x2="1485.0" y2="913.4" stroke="#3a3a3a" stroke-width="1.4"/>
<line x1="1501.2" y1="906.0" x2="1501.2" y2="913.4" stroke="#3a3a3a" stroke-width="1.4"/>
<line x1="1517.4" y1="906.0" x2="1517.4" y2="913.4" stroke="#3a3a3a" stroke-width="1.4"/>
<line x1="1549.8" y1="906.0" x2="1549.8" y2="913.4" stroke="#3a3a3a" stroke-width="1.4"/>
<line x1="1566.0" y1="906.0" x2="1566.0" y2="913.4" stroke="#3a3a3a" stroke-width="1.4"/>
<line x1="1582.2" y1="906.0" x2="1582.2" y2="913.4" stroke="#3a3a3a" stroke-width="1.4"/>
<line x1="1598.4" y1="906.0" x2="1598.4" y2="913.4" stroke="#3a3a3a" stroke-width="1.4"/>
<line x1="1630.8" y1="906.0" x2="1630.8" y2="913.4" stroke="#3a3a3a" stroke-width="1.4"/>
<line x1="1647.0" y1="906.0" x2="1647.0" y2="913.4" stroke="#3a3a3a" stroke-width="1.4"/>
<line x1="1663.2" y1="906.0" x2="1663.2" y2="913.4" stroke="#3a3a3a" stroke-width="1.4"/>
<line x1="1679.4" y1="906.0" x2="1679.4" y2="913.4" stroke="#3a3a3a" stroke-width="1.4"/>
<line x1="1711.8" y1="906.0" x2="1711.8" y2="913.4" stroke="#3a3a3a" stroke-width="1.4"/>
<line x1="1728.0" y1="906.0" x2="1728.0" y2="913.4" stroke="#3a3a3a" stroke-width="1.4"/>
<line x1="1744.3" y1="906.0" x2="1744.3" y2="913.4" stroke="#3a3a3a" stroke-width="1.4"/>
<line x1="1760.5" y1="906.0" x2="1760.5" y2="913.4" stroke="#3a3a3a" stroke-width="1.4"/>
<line x1="1792.9" y1="906.0" x2="1792.9" y2="913.4" stroke="#3a3a3a" stroke-width="1.4"/>
<line x1="1809.1" y1="906.0" x2="1809.1" y2="913.4" stroke="#3a3a3a" stroke-width="1.4"/>
<line x1="1825.3" y1="906.0" x2="1825.3" y2="913.4" stroke="#3a3a3a" stroke-width="1.4"/>
<line x1="1841.5" y1="906.0" x2="1841.5" y2="913.4" stroke="#3a3a3a" stroke-width="1.4"/>
<line x1="1128.5" y1="906.0" x2="1128.5" y2="916.8" stroke="#3a3a3a" stroke-width="1.4"/>
<line x1="1209.5" y1="906.0" x2="1209.5" y2="916.8" stroke="#3a3a3a" stroke-width="1.4"/>
<line x1="1290.5" y1="906.0" x2="1290.5" y2="916.8" stroke="#3a3a3a" stroke-width="1.4"/>
<line x1="1371.6" y1="906.0" x2="1371.6" y2="916.8" stroke="#3a3a3a" stroke-width="1.4"/>
<line x1="1452.6" y1="906.0" x2="1452.6" y2="916.8" stroke="#3a3a3a" stroke-width="1.4"/>
<line x1="1533.6" y1="906.0" x2="1533.6" y2="916.8" stroke="#3a3a3a" stroke-width="1.4"/>
<line x1="1614.6" y1="906.0" x2="1614.6" y2="916.8" stroke="#3a3a3a" stroke-width="1.4"/>
<line x1="1695.6" y1="906.0" x2="1695.6" y2="916.8" stroke="#3a3a3a" stroke-width="1.4"/>
<line x1="1776.7" y1="906.0" x2="1776.7" y2="916.8" stroke="#3a3a3a" stroke-width="1.4"/>
<line x1="1857.7" y1="906.0" x2="1857.7" y2="916.8" stroke="#3a3a3a" stroke-width="1.4"/>
<text x="1049.5" y="940.2" class="ax" text-anchor="middle">1676.5</text>
<text x="1130.5" y="940.2" class="ax" text-anchor="middle">1677.0</text>
<text x="1211.5" y="940.2" class="ax" text-anchor="middle">1677.5</text>
<text x="1292.6" y="940.2" class="ax" text-anchor="middle">1678.0</text>
<text x="1373.6" y="940.2" class="ax" text-anchor="middle">1678.5</text>
<text x="1454.6" y="940.2" class="ax" text-anchor="middle">1679.0</text>
<text x="1535.6" y="940.2" class="ax" text-anchor="middle">1679.5</text>
<text x="1616.6" y="940.2" class="ax" text-anchor="middle">1680.0</text>
<text x="1697.7" y="940.2" class="ax" text-anchor="middle">1680.5</text>
<text x="1778.7" y="940.2" class="ax" text-anchor="middle">1681.0</text>
<text x="1859.7" y="940.2" class="ax" text-anchor="middle">1681.5</text>
<text x="1451.7" y="966.0" class="mz" text-anchor="middle">m/z</text>
<line x1="249.4" y1="190.1" x2="262.5" y2="215.6" stroke="#000" stroke-width="3.1"/>
<line x1="1263.0" y1="208.3" x2="1276.4" y2="233.5" stroke="#000" stroke-width="3.1"/>
<line x1="250.3" y1="417.4" x2="263.6" y2="443.1" stroke="#000" stroke-width="3.1"/>
<line x1="251.2" y1="644.3" x2="264.5" y2="669.3" stroke="#000" stroke-width="3.1"/>
<line x1="1261.5" y1="436.8" x2="1274.5" y2="461.6" stroke="#000" stroke-width="3.1"/>
<line x1="1265.7" y1="636.1" x2="1278.5" y2="661.1" stroke="#000" stroke-width="3.1"/>
<text x="151.2" y="185.6" class="pl">1677.9188</text>
<text x="1164.8" y="203.5" class="pl">1677.9194</text>
<text x="151.2" y="414.5" class="pl">1677.9168</text>
<text x="152.3" y="639.0" class="pl">1677.9195</text>
<text x="1161.1" y="431.6" class="pl">1677.9179</text>
<text x="1164.8" y="631.1" class="pl">1677.9176</text>
<text x="760.5" y="188.8" class="sc">4x10<tspan class="sup" dy="-7.6" dx="2.6">7</tspan></text>
<text x="1770.3" y="195.4" class="sc">4x10<tspan class="sup" dy="-7.6" dx="2.6">8</tspan></text>
<text x="760.5" y="394.5" class="sc">4x10<tspan class="sup" dy="-7.6" dx="2.6">4</tspan></text>
<text x="760.5" y="615.8" class="sc">4x10<tspan class="sup" dy="-7.6" dx="2.6">4</tspan></text>
<text x="760.5" y="815.8" class="sc">4x10<tspan class="sup" dy="-7.6" dx="2.6">4</tspan></text>
<text x="1761.5" y="393.3" class="sc">3x10<tspan class="sup" dy="-7.6" dx="2.6">4</tspan></text>
<text x="1768.8" y="616.1" class="sc">3x10<tspan class="sup" dy="-7.6" dx="2.6">4</tspan></text>
<text x="1768.8" y="819.6" class="sc">3x10<tspan class="sup" dy="-7.6" dx="2.6">4</tspan></text>
<text x="37.3" y="224.3" class="lt">a</text>
<text x="38.8" y="435.1" class="lt">b</text>
<text x="38.8" y="648.6" class="lt">c</text>
<text x="38.0" y="850.6" class="lt">d</text>
<text x="151.5" y="36.6" class="tt">polytheonamide A <tspan dx="4.2">(</tspan><tspan class="it">t</tspan><tspan class="sub" dy="8" dx="0">R</tspan><tspan dy="-8" dx="-4.0"> 5.33-6.02 min)</tspan></text>
<text x="1171.0" y="36.6" class="tt">polytheonamide B <tspan dx="1.8">(</tspan><tspan class="it">t</tspan><tspan class="sub" dy="8" dx="0">R</tspan><tspan dy="-8" dx="-4.0"> 6.36-7.06 min)</tspan></text>
</svg>
</body>
</html>
